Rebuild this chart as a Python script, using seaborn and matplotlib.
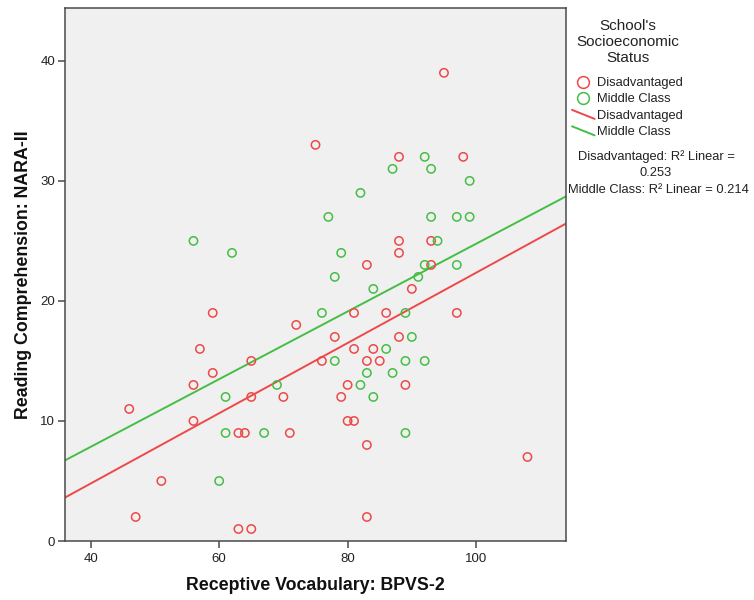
import numpy as np
import pandas as pd
import matplotlib
matplotlib.use("Agg")
import matplotlib.pyplot as plt
import seaborn as sns
from matplotlib.lines import Line2D
from matplotlib.legend_handler import HandlerLine2D

# Receptive vocabulary (BPVS-2) and reading comprehension (NARA-II) per pupil
dis_vocab = [75, 95, 88, 98, 88, 93, 88, 83, 93, 59, 72, 57, 65, 76, 59, 56, 46, 65,
             70, 56, 63, 64, 71, 51, 47, 63, 65, 90, 81, 86, 97, 78, 88, 81, 84, 83,
             85, 80, 89, 79, 80, 81, 83, 108, 83]
dis_reading = [33, 39, 32, 32, 25, 25, 24, 23, 23, 19, 18, 16, 15, 15, 14, 13, 11, 12,
               12, 10, 9, 9, 9, 5, 2, 1, 1, 21, 19, 19, 19, 17, 17, 16, 16, 15,
               15, 13, 13, 12, 10, 10, 8, 7, 2]
mid_vocab = [56, 62, 92, 87, 93, 99, 82, 77, 93, 97, 99, 94, 79, 92, 97, 78, 91, 76,
             78, 69, 61, 61, 67, 60, 84, 89, 90, 86, 89, 92, 83, 87, 82, 84, 89]
mid_reading = [25, 24, 32, 31, 31, 30, 29, 27, 27, 27, 27, 25, 24, 23, 23, 22, 22, 19,
               15, 13, 12, 9, 9, 5, 21, 19, 17, 16, 15, 15, 14, 14, 13, 12, 9]

groups = ["Disadvantaged", "Middle Class"]
r2_labels = ["0.253", "0.214"]
colors = {"Disadvantaged": "#EE4848", "Middle Class": "#44BE44"}

df = pd.DataFrame({
    "vocab": dis_vocab + mid_vocab,
    "reading": dis_reading + mid_reading,
    "group": [groups[0]] * len(dis_vocab) + [groups[1]] * len(mid_vocab),
})

sns.set_theme(style="white")
plt.rcParams["font.family"] = ["Liberation Sans", "DejaVu Sans"]

W, H = 754, 600
fig = plt.figure(figsize=(W / 100, H / 100), dpi=100)
ax = fig.add_axes([65 / W, 1 - 541 / H, (566 - 65) / W, (541 - 8) / H])
ax.set_facecolor("#F0F0F0")
xlim, ylim = (36, 114), (0, 44.4)
ax.set_xlim(*xlim)
ax.set_ylim(*ylim)

for g in groups:
    sub = df[df["group"] == g]
    c = colors[g]
    sns.scatterplot(data=sub, x="vocab", y="reading", ax=ax, color=c,
                    facecolors="none", edgecolor=c, linewidth=1.1, s=36,
                    marker="o", zorder=3)
    sns.regplot(data=sub, x="vocab", y="reading", ax=ax, scatter=False,
                ci=None, truncate=False, color=c, line_kws={"lw": 1.4, "zorder": 2})
    ax.set_xlim(*xlim)

ax.set_xlim(*xlim)
ax.set_ylim(*ylim)
ax.set_xticks([40, 60, 80, 100])
ax.set_yticks([0, 10, 20, 30, 40])
for s in ax.spines.values():
    s.set_color("#4A4A4A")
    s.set_linewidth(1.1)
ax.tick_params(axis="both", which="major", direction="out", length=5, width=1.1,
               color="#4A4A4A", labelsize=9.5, labelcolor="#222222",
               bottom=True, left=True)
ax.tick_params(axis="x", pad=4)
ax.tick_params(axis="y", pad=2)
ax.set_xlabel("Receptive Vocabulary: BPVS-2", fontsize=12.8, fontweight="bold",
              color="#111111")
ax.set_ylabel("Reading Comprehension: NARA-II", fontsize=12.8, fontweight="bold",
              color="#111111")
ax.xaxis.set_label_coords(0.5, -36 / 533)
ax.yaxis.set_label_coords(-33 / 501, 0.5)


class DiagonalLineHandler(HandlerLine2D):
    def create_artists(self, legend, orig_handle, xdescent, ydescent, width,
                       height, fontsize, trans):
        line = Line2D([-xdescent, -xdescent + width],
                      [-ydescent + height, -ydescent],
                      color=orig_handle.get_color(),
                      lw=orig_handle.get_linewidth())
        line.set_transform(trans)
        return [line]


# Legend title
fig.text(628 / W, 1 - 19 / H, "School's\nSocioeconomic\nStatus", ha="center",
         va="top", fontsize=11, linespacing=1.17, color="#222222")

handles = [
    Line2D([], [], ls="none", marker="o", markersize=8.5, markerfacecolor="none",
           markeredgecolor=colors[g], markeredgewidth=1.1) for g in groups
] + [Line2D([], [], color=colors[g], lw=1.4) for g in groups]
labels = groups + groups
leg = fig.legend(handles, labels, loc="upper left",
                 bbox_to_anchor=(572 / W, 1 - 77 / H), frameon=False,
                 fontsize=9.3, borderpad=0, borderaxespad=0,
                 handlelength=1.75, handletextpad=0.22, labelspacing=0.34,
                 handler_map={handles[2]: DiagonalLineHandler(),
                              handles[3]: DiagonalLineHandler()})
for t in leg.get_texts():
    t.set_color("#222222")

fig.text(656 / W, 1 - 157 / H, f"{groups[0]}: R\u00b2 Linear =", ha="center",
         va="center", fontsize=9.3, color="#222222")
fig.text(656 / W, 1 - 173 / H, r2_labels[0], ha="center", va="center",
         fontsize=9.3, color="#222222")
fig.text(658 / W, 1 - 190 / H, f"{groups[1]}: R\u00b2 Linear = {r2_labels[1]}",
         ha="center", va="center", fontsize=9.3, color="#222222")

fig.savefig("out.png", dpi=100, facecolor="white")
